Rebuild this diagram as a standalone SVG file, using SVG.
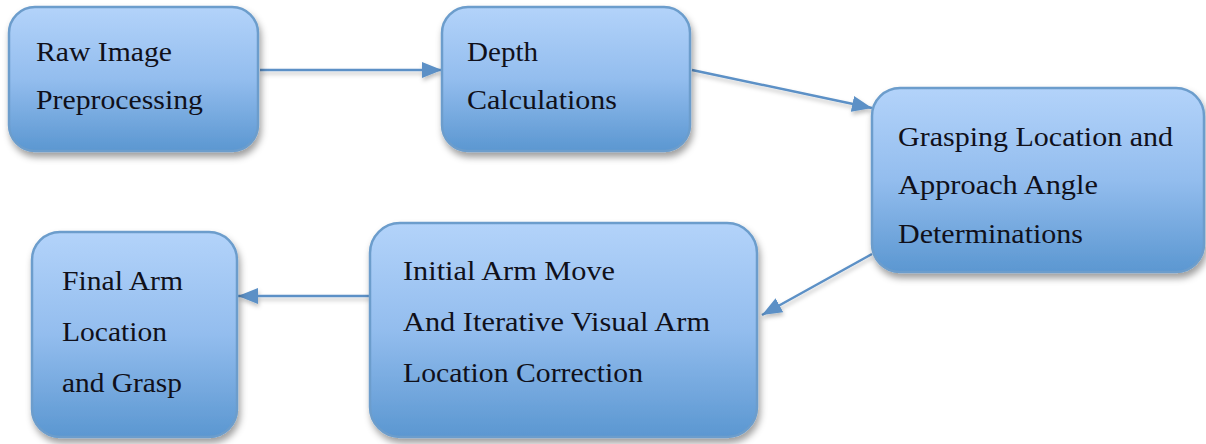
<svg xmlns="http://www.w3.org/2000/svg" width="1206" height="444" viewBox="0 0 1206 444">
<defs>
<linearGradient id="g" x1="0" y1="0" x2="0" y2="1">
<stop offset="0" stop-color="#b3d3fa"/>
<stop offset="0.5" stop-color="#93bdee"/>
<stop offset="1" stop-color="#5b97d1"/>
</linearGradient>
<filter id="sh" x="-10%" y="-10%" width="125%" height="130%">
<feDropShadow dx="2" dy="5" stdDeviation="3.5" flood-color="#000" flood-opacity="0.38"/>
</filter>
<filter id="lsh" filterUnits="userSpaceOnUse" x="0" y="0" width="1206" height="444">
<feDropShadow dx="1" dy="3" stdDeviation="2" flood-color="#000" flood-opacity="0.25"/>
</filter>
<marker id="ah2" markerWidth="20" markerHeight="16" viewBox="0 0 20 16" refX="20" refY="8" orient="auto" markerUnits="userSpaceOnUse">
<path d="M0,0 L20,8 L0,16 Z" fill="#5b90c6"/>
</marker>
</defs>
<style>
.box{fill:url(#g);stroke:#6c9dcc;stroke-width:2.5;filter:url(#sh)}
.t{font-family:'Liberation Serif','Times New Roman',Times,serif;font-size:27px;fill:#10101a}
.c{stroke:#5b90c6;stroke-width:2.5;fill:none;marker-end:url(#ah2);filter:url(#lsh)}
</style>
<g id="connectors">
<line class="c" x1="260" y1="70" x2="442" y2="70"/>
<line class="c" x1="692" y1="70" x2="872" y2="108"/>
<line class="c" x1="872" y1="254" x2="762" y2="315"/>
<line class="c" x1="370" y1="296" x2="238" y2="296"/>
</g>
<g id="n1">
<rect class="box" x="9" y="7" width="249" height="144" rx="26"/>
<text class="t" x="36" y="61" textLength="136" lengthAdjust="spacingAndGlyphs">Raw Image</text>
<text class="t" x="36" y="109" textLength="167" lengthAdjust="spacingAndGlyphs">Preprocessing</text>
</g>
<g id="n2">
<rect class="box" x="442" y="7" width="248" height="144" rx="26"/>
<text class="t" x="467" y="61" textLength="71" lengthAdjust="spacingAndGlyphs">Depth</text>
<text class="t" x="467" y="109" textLength="150" lengthAdjust="spacingAndGlyphs">Calculations</text>
</g>
<g id="n3">
<rect class="box" x="872" y="88" width="332" height="184" rx="28"/>
<text class="t" x="898" y="146" textLength="275" lengthAdjust="spacingAndGlyphs">Grasping Location and</text>
<text class="t" x="898" y="194" textLength="200" lengthAdjust="spacingAndGlyphs">Approach Angle</text>
<text class="t" x="898" y="243" textLength="185" lengthAdjust="spacingAndGlyphs">Determinations</text>
</g>
<g id="n4">
<rect class="box" x="32" y="232" width="205" height="205" rx="28"/>
<text class="t" x="62" y="290" textLength="121" lengthAdjust="spacingAndGlyphs">Final Arm</text>
<text class="t" x="62" y="341" textLength="105" lengthAdjust="spacingAndGlyphs">Location</text>
<text class="t" x="62" y="392" textLength="120" lengthAdjust="spacingAndGlyphs">and Grasp</text>
</g>
<g id="n5">
<rect class="box" x="370" y="223" width="387" height="214" rx="30"/>
<text class="t" x="403" y="280" textLength="212" lengthAdjust="spacingAndGlyphs">Initial Arm Move</text>
<text class="t" x="403" y="331" textLength="307" lengthAdjust="spacingAndGlyphs">And Iterative Visual Arm</text>
<text class="t" x="403" y="382" textLength="240" lengthAdjust="spacingAndGlyphs">Location Correction</text>
</g>
</svg>
